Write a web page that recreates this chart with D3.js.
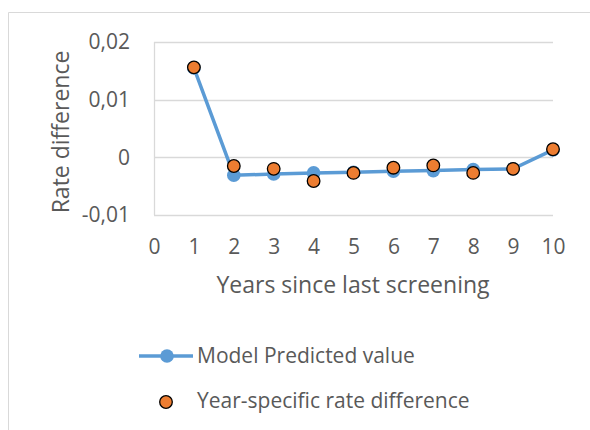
<!DOCTYPE html>
<html>
<head>
<meta charset="utf-8">
<style>
  body { margin: 0; background: #fff; }
  svg text { font-family: "Open Sans", sans-serif; fill: #595959; }
</style>
<script src="https://d3js.org/d3.v7.min.js"></script>
</head>
<body>
<svg width="590" height="430"></svg>
<script>
var years = [1, 2, 3, 4, 5, 6, 7, 8, 9, 10];
var modelValues = [0.0155, -0.0031, -0.0029, -0.0027, -0.0026, -0.0024, -0.0023, -0.0021, -0.0020, 0.0013];
var yearValues = [0.0156, -0.0015, -0.0020, -0.0041, -0.0027, -0.0018, -0.0014, -0.0027, -0.0020, 0.0014];
var xTicks = [0, 1, 2, 3, 4, 5, 6, 7, 8, 9, 10];
var yTicks = [-0.01, 0, 0.01, 0.02];
var legendNames = ["Model Predicted value", "Year-specific rate difference"];

var blue = "#5B9BD5", orange = "#ED7D31";

var svg = d3.select("svg");

// chart area frame (only top and left visible)
svg.append("path")
  .attr("d", "M8.5,430 V12.5 H590")
  .attr("fill", "none")
  .attr("stroke", "#d9d9d9")
  .attr("stroke-width", 1);

var x = d3.scaleLinear().domain([0, 10]).range([154, 553]);
var y = d3.scaleLinear().domain([-0.01, 0.02]).range([215, 42]);

// comma decimals, plain hyphen for negatives
var fmt = function(d) { return d === 0 ? "0" : d.toFixed(2).replace(".", ","); };

// gridlines
svg.append("g")
  .selectAll("line")
  .data(yTicks)
  .enter().append("line")
  .attr("x1", x(0)).attr("x2", x(10))
  .attr("y1", function(d) { return Math.round(y(d)) + 0.5; })
  .attr("y2", function(d) { return Math.round(y(d)) + 0.5; })
  .attr("stroke", "#d9d9d9")
  .attr("stroke-width", 1.3);

// left axis line
svg.append("line")
  .attr("x1", x(0) + 0.5).attr("x2", x(0) + 0.5)
  .attr("y1", y(0.02)).attr("y2", y(-0.01))
  .attr("stroke", "#d9d9d9")
  .attr("stroke-width", 1.3);

// y axis
var yAxis = svg.append("g")
  .attr("transform", "translate(" + x(0) + ",0)")
  .call(d3.axisLeft(y).tickValues(yTicks).tickFormat(fmt).tickSize(0).tickPadding(24));
yAxis.select(".domain").remove();
yAxis.selectAll("text").style("font-size", "21px").attr("fill", "#595959").style("font-family", "'Open Sans', sans-serif");

// x axis
var xAxis = svg.append("g")
  .attr("transform", "translate(0," + y(-0.01) + ")")
  .call(d3.axisBottom(x).tickValues(xTicks).tickFormat(d3.format("d")).tickSize(0).tickPadding(24));
xAxis.select(".domain").remove();
xAxis.selectAll("text").style("font-size", "21px").attr("fill", "#595959").style("font-family", "'Open Sans', sans-serif");

// axis titles
svg.append("text")
  .attr("transform", "translate(69,132) rotate(-90)")
  .attr("text-anchor", "middle")
  .style("font-size", "23px")
  .text("Rate difference");

svg.append("text")
  .attr("x", 353).attr("y", 293)
  .attr("text-anchor", "middle")
  .style("font-size", "23px")
  .text("Years since last screening");

// model line
var line = d3.line()
  .x(function(d, i) { return x(years[i]); })
  .y(function(d) { return y(d); });

svg.append("path")
  .datum(modelValues)
  .attr("d", line)
  .attr("fill", "none")
  .attr("stroke", blue)
  .attr("stroke-width", 3.5);

svg.append("g")
  .selectAll("circle")
  .data(modelValues)
  .enter().append("circle")
  .attr("cx", function(d, i) { return x(years[i]); })
  .attr("cy", function(d) { return y(d); })
  .attr("r", 6.8)
  .attr("fill", blue);

// year-specific points
svg.append("g")
  .selectAll("circle")
  .data(yearValues)
  .enter().append("circle")
  .attr("cx", function(d, i) { return x(years[i]); })
  .attr("cy", function(d) { return y(d); })
  .attr("r", 6.3)
  .attr("fill", orange)
  .attr("stroke", "#000")
  .attr("stroke-width", 1.3);

// legend
var lg = svg.append("g");
lg.append("line")
  .attr("x1", 139).attr("x2", 193)
  .attr("y1", 356).attr("y2", 356)
  .attr("stroke", blue).attr("stroke-width", 3.5);
lg.append("circle").attr("cx", 167).attr("cy", 356).attr("r", 6.8).attr("fill", blue);
lg.append("text").attr("x", 197).attr("y", 363).style("font-size", "21px").text(legendNames[0]);

lg.append("circle").attr("cx", 166).attr("cy", 402).attr("r", 6.3)
  .attr("fill", orange).attr("stroke", "#000").attr("stroke-width", 1.3);
lg.append("text").attr("x", 197).attr("y", 408).style("font-size", "21px").text(legendNames[1]);
</script>
</body>
</html>
